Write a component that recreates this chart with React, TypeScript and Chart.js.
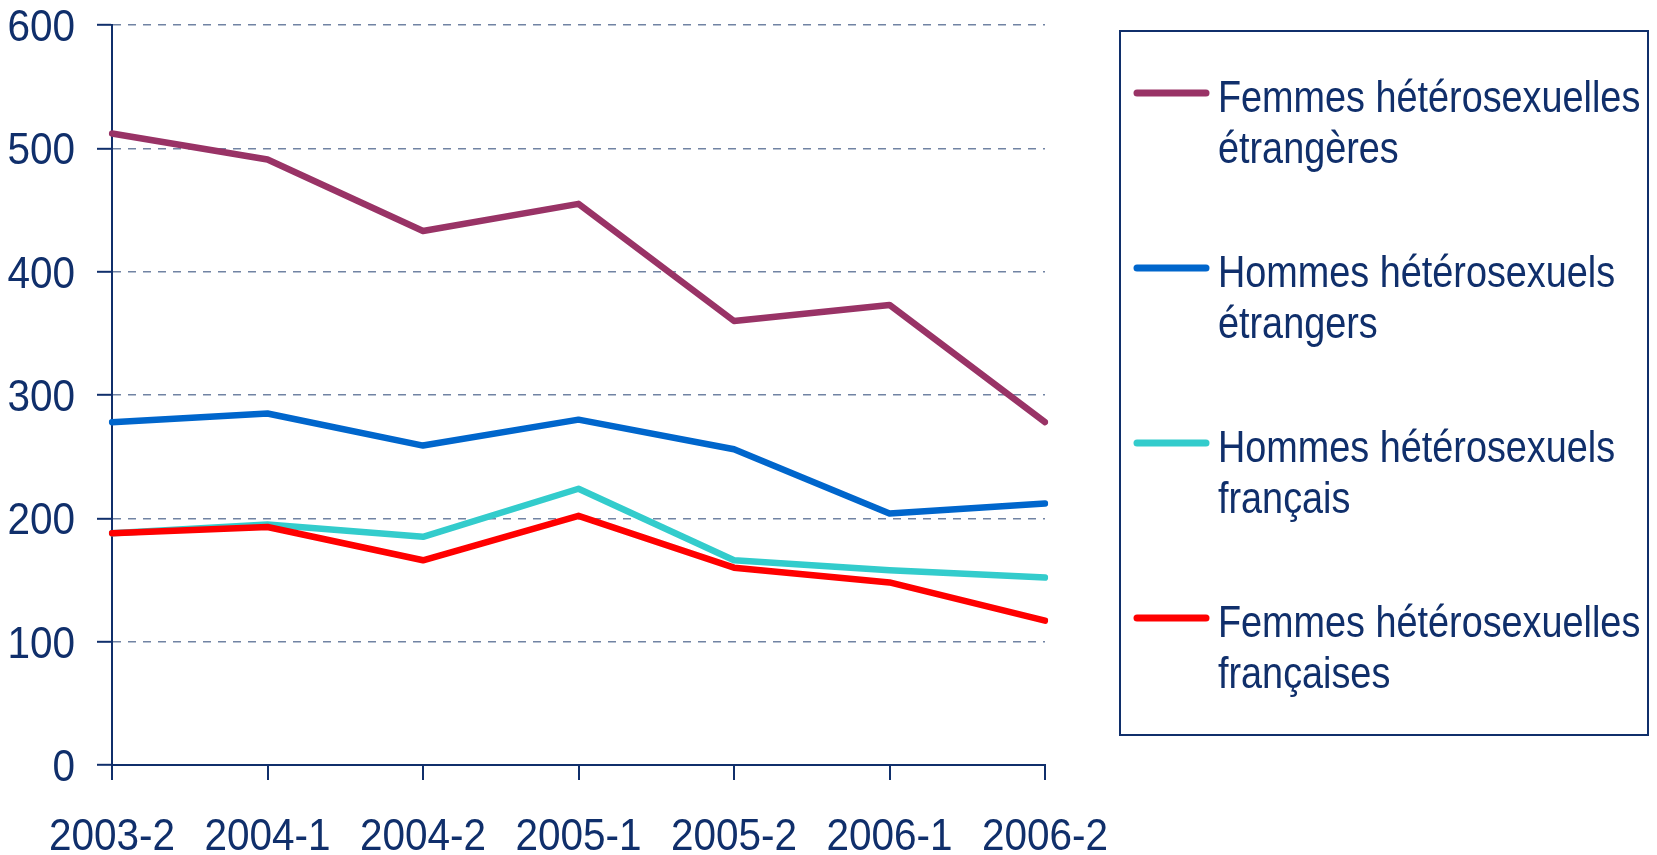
import React, { useEffect, useRef } from "react";
import { Chart, registerables } from "chart.js";

Chart.register(...registerables);

const categories = ["2003-2", "2004-1", "2004-2", "2005-1", "2005-2", "2006-1", "2006-2"];
const femmesEtrangeres = [512, 491, 433, 455, 360, 373, 278];
const hommesEtrangers = [278, 285, 259, 280, 256, 204, 212];
const hommesFrancais = [188, 195, 185, 224, 166, 158, 152];
const femmesFrancaises = [188, 193, 166, 202, 160, 148, 117];
const seriesLabels = [
  ["Femmes hétérosexuelles", "étrangères"],
  ["Hommes hétérosexuels", "étrangers"],
  ["Hommes hétérosexuels", "français"],
  ["Femmes hétérosexuelles", "françaises"],
];
const seriesColors = ["#993366", "#0066CC", "#33CCCC", "#FF0000"];
const yTicks = [0, 100, 200, 300, 400, 500, 600];

const NAVY = "#102F6B";
const GRID = "#7183A3";
const FONT = "'Liberation Sans', Arial, sans-serif";
const NARROW_TEXT = 0.84;
const NARROW_NUM = 0.9;

function narrowText(ctx: any, text: string, x: number, y: number, align: string, k: number) {
  ctx.save();
  ctx.translate(x, y);
  ctx.scale(k, 1);
  ctx.textAlign = align;
  ctx.fillText(text, 0, 0);
  ctx.restore();
}

const textPlugin = {
  id: "narrowText",
  afterDraw(chart: any) {
    const ctx = chart.ctx;
    ctx.save();
    ctx.fillStyle = NAVY;
    ctx.font = `45px ${FONT}`;
    ctx.textBaseline = "alphabetic";
    const xs = chart.scales.x;
    categories.forEach((c, i) => {
      narrowText(ctx, c, xs.getPixelForTick(i), 850, "center", NARROW_NUM);
    });
    const ys = chart.scales.y;
    yTicks.forEach((v) => {
      narrowText(ctx, String(v), 75, ys.getPixelForValue(v) + 16, "right", NARROW_NUM);
    });
    ctx.strokeStyle = NAVY;
    ctx.lineWidth = 2;
    ctx.strokeRect(1120, 31, 528, 704);
    chart.data.datasets.forEach((ds: any, i: number) => {
      const y = 93 + i * 175;
      ctx.beginPath();
      ctx.strokeStyle = ds.borderColor;
      ctx.lineWidth = 7;
      ctx.lineCap = "round";
      ctx.moveTo(1137, y);
      ctx.lineTo(1206, y);
      ctx.stroke();
      const lines = seriesLabels[i];
      narrowText(ctx, lines[0], 1218, y + 19, "left", NARROW_TEXT);
      narrowText(ctx, lines[1], 1218, y + 70, "left", NARROW_TEXT);
    });
    ctx.restore();
  },
};

export default function App() {
  const ref = useRef<HTMLCanvasElement | null>(null);
  useEffect(() => {
    if (!ref.current) return;
    const data = [femmesEtrangeres, hommesEtrangers, hommesFrancais, femmesFrancaises];
    const chart = new Chart(ref.current, {
      type: "line",
      data: {
        labels: categories,
        datasets: data.map((d, i) => ({
          label: seriesLabels[i].join(" "),
          data: d,
          borderColor: seriesColors[i],
          backgroundColor: seriesColors[i],
          borderWidth: 6.5,
          pointRadius: 0,
          tension: 0,
          borderCapStyle: "round",
          borderJoinStyle: "round",
          order: i === 3 ? 0 : 1,
        })),
      },
      options: {
        animation: false,
        responsive: false,
        layout: { padding: { top: 25, right: 612, left: 0, bottom: 0 } },
        plugins: { legend: { display: false }, tooltip: { enabled: false } },
        scales: {
          x: {
            type: "category",
            offset: false,
            afterFit: (s: any) => {
              s.height = 90;
            },
            grid: {
              drawOnChartArea: false,
              drawTicks: true,
              tickLength: 15,
              tickColor: NAVY,
              tickWidth: 2,
              color: NAVY,
              lineWidth: 2,
            },
            border: { display: true, color: NAVY, width: 2 },
            ticks: { display: false, autoSkip: false, maxRotation: 0 },
          },
          y: {
            min: 0,
            max: 600,
            afterFit: (s: any) => {
              s.width = 112;
            },
            afterBuildTicks: (s: any) => {
              s.ticks = yTicks.map((v) => ({ value: v }));
            },
            grid: {
              drawTicks: true,
              tickLength: 15,
              tickColor: NAVY,
              tickWidth: 2,
              tickBorderDash: [],
              color: (c: any) => (c.tick && c.tick.value === 0 ? "rgba(0,0,0,0)" : GRID),
              lineWidth: 1.6,
            },
            border: { display: true, color: NAVY, width: 2, dash: [8, 7] },
            ticks: { display: false },
          },
        },
      },
      plugins: [textPlugin],
    } as any);
    return () => chart.destroy();
  }, []);
  return (
    <div style={{ position: "absolute", left: 0, top: 0, width: 1657, height: 855, background: "#fff" }}>
      <canvas ref={ref} width={1657} height={855} style={{ display: "block" }} />
    </div>
  );
}
